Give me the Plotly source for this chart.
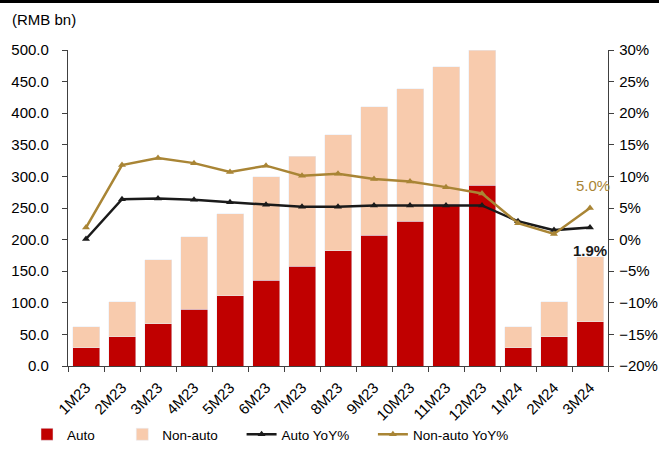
import plotly.graph_objects as go

months = ["1M23", "2M23", "3M23", "4M23", "5M23", "6M23", "7M23", "8M23",
          "9M23", "10M23", "11M23", "12M23", "1M24", "2M24", "3M24"]
# cumulative totals (RMB bn)
auto = [28.5, 46, 67, 89.5, 111.5, 136, 158, 182, 207, 229, 256, 286, 28.5, 46, 70]
total = [62, 101.5, 168, 204.5, 241, 299.5, 332, 366, 410, 439, 473.5, 500, 62, 101.5, 173]
non_auto = [round(t - a, 1) for t, a in zip(total, auto)]
# YoY growth (fraction)
auto_yoy = [0.001, 0.064, 0.065, 0.063, 0.059, 0.055, 0.052, 0.052, 0.054, 0.054,
            0.054, 0.054, 0.029, 0.015, 0.019]
non_auto_yoy = [0.019, 0.118, 0.129, 0.121, 0.107, 0.117, 0.101, 0.104, 0.096, 0.092,
                0.083, 0.073, 0.026, 0.009, 0.050]

RED = "#C00000"
PEACH = "#F8CBAD"
BLACK = "#1A1A1A"
GOLD = "#A98535"
FONT = "Liberation Sans, Arial, sans-serif"
NB = "\u00a0"
W, H = 659, 450

fig = go.Figure()
fig.add_trace(go.Bar(x=months, y=auto, name="Auto" + NB * 6, marker_color=RED,
                     legendgroup="a"))
fig.add_trace(go.Bar(x=months, y=non_auto, name="Non-auto" + NB * 5, marker_color=PEACH,
                     legendgroup="b"))
fig.add_trace(go.Scatter(x=months, y=auto_yoy, name="Auto YoY%" + NB * 5, yaxis="y2",
                         mode="lines+markers", line=dict(color=BLACK, width=2.5),
                         marker=dict(symbol="triangle-up", size=7, color=BLACK),
                         legendgroup="c"))
fig.add_trace(go.Scatter(x=months, y=non_auto_yoy, name="Non-auto YoY%", yaxis="y2",
                         mode="lines+markers", line=dict(color=GOLD, width=2.5),
                         marker=dict(symbol="triangle-up", size=7, color=GOLD),
                         legendgroup="d"))

fig.add_annotation(x=months[-1], y=non_auto_yoy[-1], xref="x", yref="y2",
                   text=f"{non_auto_yoy[-1]*100:.1f}%", showarrow=False,
                   yshift=23, xshift=3, font=dict(color=GOLD, size=15, family=FONT))
fig.add_annotation(x=months[-1], y=auto_yoy[-1], xref="x", yref="y2",
                   text=f"<b>{auto_yoy[-1]*100:.1f}%</b>", showarrow=False,
                   yshift=-23, xshift=0, font=dict(color=BLACK, size=15, family=FONT))
fig.add_annotation(x=10 / W, y=1 - 20 / H, xref="paper", yref="paper", xanchor="left",
                   yanchor="middle", text="(RMB bn)", showarrow=False,
                   font=dict(color="#000", size=15, family=FONT))

fig.add_shape(type="rect", xref="paper", yref="paper", x0=0, x1=1,
              y0=1 - 3 / H, y1=1, fillcolor="black", line_width=0, layer="above")

axis_common = dict(showline=True, linecolor="#404040", linewidth=1.3,
                   ticks="outside", ticklen=5, tickcolor="#404040",
                   showgrid=False, zeroline=False, automargin=False,
                   tickfont=dict(size=15, color="#000", family=FONT))

fig.update_layout(
    width=W, height=H,
    margin=dict(l=0, r=0, t=0, b=0),
    paper_bgcolor="white", plot_bgcolor="white",
    barmode="stack", bargap=0.25,
    font=dict(family=FONT, color="#000"),
    xaxis=dict(**axis_common, type="category", tickangle=-45, tickson="boundaries",
               ticklabelstandoff=6,
               range=[-0.5, len(months) - 0.5], domain=[68 / W, 608 / W]),
    yaxis=dict(**axis_common, range=[0, 500], dtick=50, tickformat=".1f",
               ticklabelstandoff=10,
               domain=[(H - 366) / H, (H - 50) / H]),
    yaxis2=dict(**axis_common, overlaying="y", side="right", range=[-0.20, 0.30],
                dtick=0.05, tickformat=".0%", ticklabelstandoff=2),
    legend=dict(orientation="h", x=27 / W, y=0, xanchor="left", yanchor="bottom",
                traceorder="normal", font=dict(size=13.5, family=FONT, color="#000"),
                bgcolor="rgba(0,0,0,0)"),
    showlegend=True,
)

fig.write_html("out.html")
